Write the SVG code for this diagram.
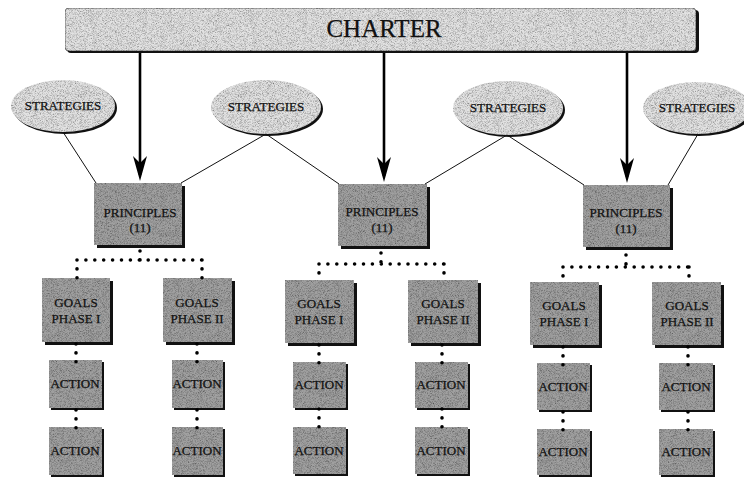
<svg xmlns="http://www.w3.org/2000/svg" width="744" height="478" viewBox="0 0 744 478">
<style>
  .light{fill:#e2e2e2;}
  .box{fill:#a0a0a0;}
  .shadow{fill:#111;}
  .txt{font-family:"Liberation Serif","Times New Roman",serif;fill:#111;stroke:#111;stroke-width:0.25;text-anchor:middle;}
  .t13{font-size:13px;}
  .thin{stroke:#111;stroke-width:1;fill:none;}
  .arrow{stroke:#000;stroke-width:2.6;fill:none;}
  .dots{stroke:#000;stroke-width:3.6;stroke-linecap:round;stroke-dasharray:0 8.9;fill:none;}
</style>
<defs>
  <filter id="grain" x="0" y="0" width="100%" height="100%">
    <feTurbulence type="fractalNoise" baseFrequency="1.6" numOctaves="2" seed="7" result="n"/>
    <feColorMatrix in="n" type="matrix" values="0 0 0 0 0  0 0 0 0 0  0 0 0 0 0  1.5 0 0 0 -0.6" result="specks"/>
    <feComposite in="specks" in2="SourceAlpha" operator="in" result="sp"/>
    <feMerge><feMergeNode in="SourceGraphic"/><feMergeNode in="sp"/></feMerge>
  </filter>
  <marker id="head" markerUnits="userSpaceOnUse" markerWidth="28" markerHeight="16" refX="19" refY="7" orient="auto" overflow="visible">
    <path d="M0,0 L25,7 L0,14 L7,7 Z" fill="#000"/>
  </marker>
</defs>

<g id="charter">
  <rect x="67" y="10" width="632" height="43" rx="4" class="shadow"/>
  <rect x="65" y="8" width="631" height="43" rx="4" class="light" stroke="#555" stroke-width="0.8" filter="url(#grain)"/>
  <text x="384" y="37" class="txt" font-size="25">CHARTER</text>
</g>

<g id="strategies1">
  <ellipse cx="65" cy="108" rx="52" ry="26" class="shadow"/>
  <ellipse cx="63" cy="106" rx="52" ry="26" class="light" filter="url(#grain)"/>
  <text x="63" y="110" class="txt t13">STRATEGIES</text>
</g>
<g id="strategies2">
  <ellipse cx="268" cy="109" rx="55" ry="27" class="shadow"/>
  <ellipse cx="266" cy="107" rx="55" ry="27" class="light" filter="url(#grain)"/>
  <text x="266" y="111" class="txt t13">STRATEGIES</text>
</g>
<g id="strategies3">
  <ellipse cx="510" cy="110" rx="55" ry="27" class="shadow"/>
  <ellipse cx="508" cy="108" rx="55" ry="27" class="light" filter="url(#grain)"/>
  <text x="508" y="112" class="txt t13">STRATEGIES</text>
</g>
<g id="strategies4">
  <ellipse cx="699" cy="110" rx="54" ry="26" class="shadow"/>
  <ellipse cx="697" cy="108" rx="54" ry="26" class="light" filter="url(#grain)"/>
  <text x="697" y="112" class="txt t13">STRATEGIES</text>
</g>

<!-- cluster 1 -->
<g id="principles1">
  <rect x="97" y="186" width="88" height="62" class="shadow"/>
  <rect x="94" y="183" width="88" height="62" class="box" filter="url(#grain)"/>
  <text x="140" y="217" class="txt t13">PRINCIPLES</text>
  <text x="140" y="232" class="txt t13">(11)</text>
</g>
<g id="goals1a">
  <rect x="45" y="281" width="68" height="64" class="shadow"/>
  <rect x="42" y="278" width="68" height="64" class="box" filter="url(#grain)"/>
  <text x="76" y="307" class="txt t13">GOALS</text>
  <text x="76" y="323" class="txt t13">PHASE I</text>
</g>
<g id="goals1b">
  <rect x="166" y="281" width="69" height="64" class="shadow"/>
  <rect x="163" y="278" width="69" height="64" class="box" filter="url(#grain)"/>
  <text x="197" y="307" class="txt t13">GOALS</text>
  <text x="197" y="323" class="txt t13">PHASE II</text>
</g>
<g id="action1a1">
  <rect x="51" y="362" width="53" height="48" class="shadow"/>
  <rect x="49" y="360" width="53" height="48" class="box" filter="url(#grain)"/>
  <text x="75" y="388" class="txt t13">ACTION</text>
</g>
<g id="action1a2">
  <rect x="51" y="429" width="53" height="48" class="shadow"/>
  <rect x="49" y="427" width="53" height="48" class="box" filter="url(#grain)"/>
  <text x="75" y="455" class="txt t13">ACTION</text>
</g>
<g id="action1b1">
  <rect x="174" y="362" width="51" height="48" class="shadow"/>
  <rect x="172" y="360" width="51" height="48" class="box" filter="url(#grain)"/>
  <text x="197" y="388" class="txt t13">ACTION</text>
</g>
<g id="action1b2">
  <rect x="174" y="429" width="51" height="48" class="shadow"/>
  <rect x="172" y="427" width="51" height="48" class="box" filter="url(#grain)"/>
  <text x="197" y="455" class="txt t13">ACTION</text>
</g>

<!-- cluster 2 -->
<g id="principles2">
  <rect x="341" y="187" width="89" height="62" class="shadow"/>
  <rect x="338" y="184" width="89" height="62" class="box" filter="url(#grain)"/>
  <text x="382" y="216" class="txt t13">PRINCIPLES</text>
  <text x="382" y="232" class="txt t13">(11)</text>
</g>
<g id="goals2a">
  <rect x="288" y="283" width="69" height="63" class="shadow"/>
  <rect x="285" y="280" width="69" height="63" class="box" filter="url(#grain)"/>
  <text x="319" y="308" class="txt t13">GOALS</text>
  <text x="319" y="324" class="txt t13">PHASE I</text>
</g>
<g id="goals2b">
  <rect x="411" y="283" width="70" height="63" class="shadow"/>
  <rect x="408" y="280" width="70" height="63" class="box" filter="url(#grain)"/>
  <text x="443" y="308" class="txt t13">GOALS</text>
  <text x="443" y="324" class="txt t13">PHASE II</text>
</g>
<g id="action2a1">
  <rect x="295" y="364" width="53" height="46" class="shadow"/>
  <rect x="293" y="362" width="53" height="46" class="box" filter="url(#grain)"/>
  <text x="319" y="389" class="txt t13">ACTION</text>
</g>
<g id="action2a2">
  <rect x="295" y="429" width="53" height="47" class="shadow"/>
  <rect x="293" y="427" width="53" height="47" class="box" filter="url(#grain)"/>
  <text x="319" y="455" class="txt t13">ACTION</text>
</g>
<g id="action2b1">
  <rect x="417" y="364" width="53" height="46" class="shadow"/>
  <rect x="415" y="362" width="53" height="46" class="box" filter="url(#grain)"/>
  <text x="441" y="389" class="txt t13">ACTION</text>
</g>
<g id="action2b2">
  <rect x="417" y="429" width="53" height="47" class="shadow"/>
  <rect x="415" y="427" width="53" height="47" class="box" filter="url(#grain)"/>
  <text x="441" y="455" class="txt t13">ACTION</text>
</g>

<!-- cluster 3 -->
<g id="principles3">
  <rect x="586" y="188" width="87" height="62" class="shadow"/>
  <rect x="583" y="185" width="87" height="62" class="box" filter="url(#grain)"/>
  <text x="626" y="217" class="txt t13">PRINCIPLES</text>
  <text x="626" y="233" class="txt t13">(11)</text>
</g>
<g id="goals3a">
  <rect x="533" y="285" width="69" height="63" class="shadow"/>
  <rect x="530" y="282" width="69" height="63" class="box" filter="url(#grain)"/>
  <text x="564" y="310" class="txt t13">GOALS</text>
  <text x="564" y="326" class="txt t13">PHASE I</text>
</g>
<g id="goals3b">
  <rect x="655" y="285" width="69" height="63" class="shadow"/>
  <rect x="652" y="282" width="69" height="63" class="box" filter="url(#grain)"/>
  <text x="687" y="310" class="txt t13">GOALS</text>
  <text x="687" y="326" class="txt t13">PHASE II</text>
</g>
<g id="action3a1">
  <rect x="539" y="365" width="53" height="47" class="shadow"/>
  <rect x="537" y="363" width="53" height="47" class="box" filter="url(#grain)"/>
  <text x="563" y="391" class="txt t13">ACTION</text>
</g>
<g id="action3a2">
  <rect x="539" y="431" width="53" height="46" class="shadow"/>
  <rect x="537" y="429" width="53" height="46" class="box" filter="url(#grain)"/>
  <text x="563" y="456" class="txt t13">ACTION</text>
</g>
<g id="action3b1">
  <rect x="661" y="365" width="54" height="47" class="shadow"/>
  <rect x="659" y="363" width="54" height="47" class="box" filter="url(#grain)"/>
  <text x="686" y="391" class="txt t13">ACTION</text>
</g>
<g id="action3b2">
  <rect x="661" y="431" width="54" height="46" class="shadow"/>
  <rect x="659" y="429" width="54" height="46" class="box" filter="url(#grain)"/>
  <text x="686" y="456" class="txt t13">ACTION</text>
</g>

<g id="connectors">
  <line x1="140" y1="53" x2="140" y2="175" class="arrow" marker-end="url(#head)"/>
  <line x1="384" y1="53" x2="384" y2="176" class="arrow" marker-end="url(#head)"/>
  <line x1="627" y1="53" x2="627" y2="177" class="arrow" marker-end="url(#head)"/>
  <line x1="63" y1="132" x2="96" y2="183" class="thin"/>
  <line x1="266" y1="134" x2="181" y2="183" class="thin"/>
  <line x1="266" y1="134" x2="339" y2="184" class="thin"/>
  <line x1="507" y1="135" x2="425" y2="184" class="thin"/>
  <line x1="507" y1="135" x2="584" y2="185" class="thin"/>
  <line x1="698" y1="134" x2="668" y2="185" class="thin"/>
  <!-- cluster 1 -->
  <path d="M140,251 V260 M77,260 H202 M77,260 V278 M202,260 V278" class="dots"/>
  <path d="M76,344 V362 M76,410 V428 M197,344 V362 M197,410 V428" class="dots" stroke-dasharray="0 9"/>
  <!-- cluster 2 -->
  <path d="M381,253 V264 M319,264 H444 M319,264 V280 M444,264 V280" class="dots"/>
  <path d="M319,345 V363 M319,409 V427 M442,345 V363 M442,409 V427" class="dots" stroke-dasharray="0 9"/>
  <!-- cluster 3 -->
  <path d="M626,255 V267 M563,267 H689 M563,267 V282 M689,267 V282" class="dots"/>
  <path d="M563,347 V365 M563,412 V430 M688,347 V365 M688,412 V430" class="dots" stroke-dasharray="0 9"/>
</g>
</svg>
